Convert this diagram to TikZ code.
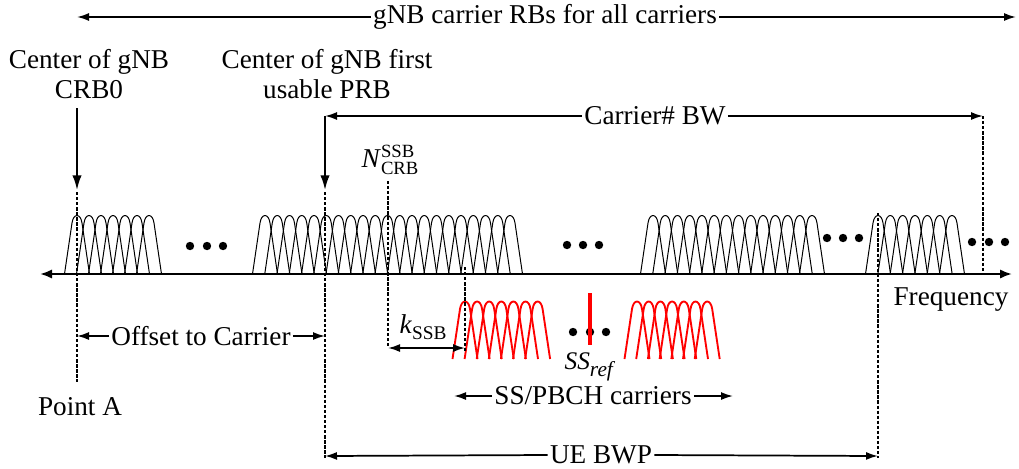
\documentclass[tikz,border=0pt]{standalone}
\usepackage{fontspec}
\setmainfont{Liberation Serif}
\usetikzlibrary{arrows.meta}
\newcommand\lobes[5]{% first peak, spacing, last index, top, base
  \foreach \k in {0,...,#3}{
    \pgfmathsetmacro\cc{#1+#2*\k}
    \draw[lobe] ({\cc-12.5},#5) -- ({\cc-5},{#4+10})
      .. controls ({\cc-3.5},#4) and ({\cc+3.5},#4) .. ({\cc+5},{#4+10}) -- ({\cc+12.5},#5);
  }}
\begin{document}
\begin{tikzpicture}[x=0.75pt,y=-0.75pt,
  txt/.style={font=\fontsize{20.4}{22.5}\selectfont, inner sep=1.5pt, align=center},
  tip/.style={line width=1.3pt, -{Latex[length=9pt,width=6pt]}},
  dim/.style={line width=1.3pt, {Latex[length=9pt,width=6pt]}-{Latex[length=9pt,width=6pt]}},
  vtip/.style={line width=1.4pt, -{Latex[length=11pt,width=7pt]}},
  axis/.style={line width=1.7pt, {Latex[length=9pt,width=7pt]}-{Latex[length=9pt,width=7pt]}},
  guide/.style={line width=1pt, dash pattern=on 2.5pt off 1.3pt},
  lobe/.style={line width=0.75pt, black, line join=round},
  redlobe/.style={lobe/.style={line width=1.4pt, red, line join=round}},
  dot/.style={fill=black}
]
\useasboundingbox (0,0) rectangle (1019,468);

% ---------- subcarrier groups ----------
\lobes{77}{12}{6}{213}{274}
\lobes{265}{12.25}{20}{213}{274}
\lobes{653}{12.23}{13}{213}{274}
\lobes{878}{12.33}{6}{213}{274}
\begin{scope}[redlobe]
\lobes{465}{12.1}{6}{299}{359}
\lobes{637}{11.7}{6}{299}{359}
\end{scope}

% ---------- dots ----------
\foreach \x in {190,207,223} \fill[dot] (\x,246) circle[radius=4.2];
\foreach \x in {567,583,599} \fill[dot] (\x,245) circle[radius=4.2];
\foreach \x in {827,843,859} \fill[dot] (\x,238) circle[radius=4.2];
\foreach \x in {972,989,1005} \fill[dot] (\x,242) circle[radius=4.2];
\foreach \x in {573,590,606} \fill[dot] (\x,332) circle[radius=4.2];
\draw[red, line width=2.6pt] (590,293) -- (590,345);

% ---------- frequency axis ----------
\coordinate (axL) at (40,274);
\coordinate (axR) at (1012,274);
\draw[axis] (axL) -- (axR);
\node[txt] (freq) at (951,300) {Frequency};

% ---------- top span ----------
\node[txt, fill=white] (top) at (545,17) {gNB carrier RBs for all carriers};
\coordinate (topL) at (77,17);
\coordinate (topR) at (1016,17);
\draw[tip] (top.west) -- (topL);
\draw[tip] (top.east) -- (topR);

% ---------- CRB0 ----------
\node[txt] (crb0) at (89,74) {Center of gNB\\CRB0};
\coordinate (crb0a) at (77,108);
\coordinate (crb0b) at (77,190);
\draw[vtip] (crb0a) -- (crb0b);
\coordinate (pAtop) at (77,192);
\coordinate (pAbot) at (77,382);
\draw[guide] (pAtop) -- (pAbot);
\node[txt] (pointA) at (80,407) {Point A};

% ---------- first usable PRB ----------
\node[txt] (prb) at (327,74) {Center of gNB first\\usable PRB};
\coordinate (cbL) at (325,116);
\coordinate (cbR) at (983,116);
\node[txt, fill=white] (cbw) at (655,116) {Carrier\# BW};
\draw[tip] (cbw.west) -- (cbL);
\draw[tip] (cbw.east) -- (cbR);
\coordinate (prbb) at (325,190);
\draw[vtip] (cbL) -- (prbb);
\coordinate (prbg1) at (325,192);
\coordinate (prbg2) at (325,458);
\draw[guide] (prbg1) -- (prbg2);
\coordinate (cbg2) at (983,273);
\draw[guide] (cbR) -- (cbg2);

% ---------- N_CRB^SSB and k_SSB ----------
\node[txt] (ncrb) at (390,160) {\textit{N}\rlap{\raisebox{7.5pt}{\fontsize{14}{14}\selectfont SSB}}\raisebox{-5pt}{\fontsize{14}{14}\selectfont CRB}};
\coordinate (ng1) at (388,181);
\coordinate (ng2) at (388,348);
\draw[guide] (ng1) -- (ng2);
\coordinate (sg1) at (465,267);
\coordinate (sg2) at (465,352);
\draw[guide] (sg1) -- (sg2);
\coordinate (ks1) at (388,348);
\coordinate (ks2) at (465,348);
\draw[dim] (ks1) -- (ks2);
\node[txt] (kssb) at (423,327) {\textit{k}\raisebox{-4.5pt}{\fontsize{14.5}{14.5}\selectfont SSB}};

% ---------- Offset to Carrier ----------
\node[txt] (off) at (201,336) {Offset to Carrier};
\coordinate (offL) at (77,336);
\coordinate (offR) at (325,336);
\draw[tip] (off.west) -- (offL);
\draw[tip] (off.east) -- (offR);

% ---------- SS ref ----------
\node[txt] (ssref) at (590,367) {\fontsize{19}{19}\selectfont\textit{SS}\raisebox{-5pt}{\fontsize{16}{16}\selectfont\textit{ref}}};

% ---------- SS/PBCH carriers ----------
\node[txt] (ssp) at (593,396) {SS/PBCH carriers};
\coordinate (sspL) at (454,396);
\coordinate (sspR) at (733,396);
\draw[tip] (ssp.west) -- (sspL);
\draw[tip] (ssp.east) -- (sspR);

% ---------- UE BWP ----------
\coordinate (bwpg1) at (878,213);
\coordinate (bwpg2) at (878,458);
\draw[guide] (bwpg1) -- (bwpg2);
\node[txt] (bwp) at (601,455) {UE BWP};
\coordinate (bwpL) at (325,456);
\coordinate (bwpR) at (878,456);
\draw[tip] (bwp.west) -- (bwpL);
\draw[tip] (bwp.east) -- (bwpR);
\end{tikzpicture}
\end{document}
